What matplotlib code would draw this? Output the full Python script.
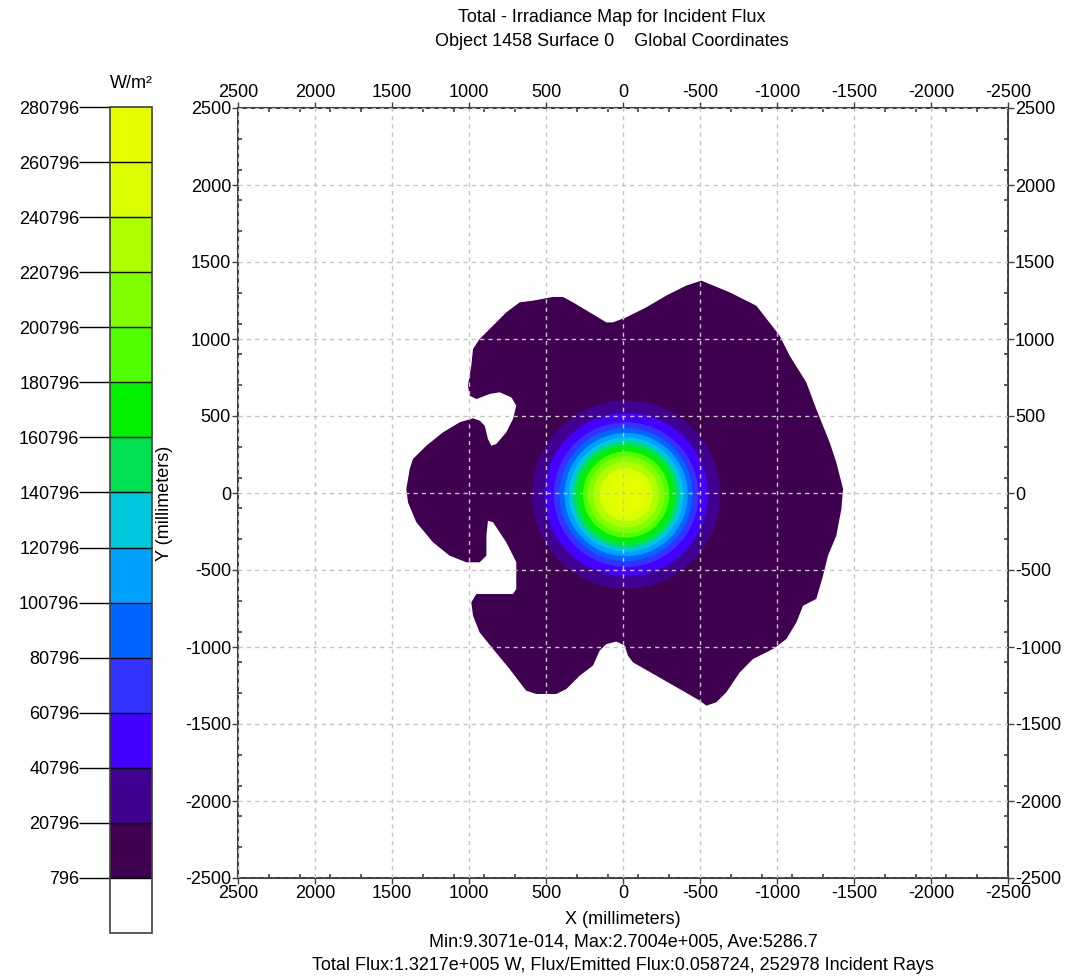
import numpy as np
import matplotlib
matplotlib.use("Agg")
import matplotlib.pyplot as plt
from matplotlib.colors import ListedColormap, BoundaryNorm
from matplotlib.patches import Polygon, Circle
from matplotlib.cm import ScalarMappable
from matplotlib.ticker import FixedLocator

plt.rcParams['font.family'] = ['Liberation Sans', 'DejaVu Sans']
plt.rcParams['axes.unicode_minus'] = False

# Irradiance contour levels (W/m^2) and the colour of each band above a level
level_values = [796, 20796, 40796, 60796, 80796, 100796, 120796, 140796,
                160796, 180796, 200796, 220796, 240796, 260796, 280796]
band_colors = ['#400050', '#400090', '#4400ff', '#3333ff', '#0066ff',
               '#00a0ff', '#00c8dc', '#00e050', '#00f000', '#50ff00',
               '#80ff00', '#b0ff00', '#dcff00', '#e6ff00']
below_color = 'white'

# Outline of the illuminated region (mm)
blob_x = [-509, -693, -866, -1017, -1082, -1190, -1255, -1342, -1385, -1429,
          -1418, -1385, -1331, -1299, -1255, -1169, -1126, -1061, -974, -844,
          -758, -671, -606, -541, -498, -368, -216, -65, -32, -11, 43, 108,
          152, 195, 281, 368, 433, 563, 628, 671, 736, 844, 931, 974, 985,
          952, 714, 693, 693, 714, 758, 844, 877, 887, 887, 931, 1017, 1126,
          1234, 1342, 1396, 1407, 1385, 1364, 1277, 1169, 1061, 974, 931, 898,
          877, 855, 823, 758, 714, 693, 725, 801, 866, 952, 996, 1007, 985,
          974, 931, 844, 758, 671, 584, 455, 390, 325, 216, 108, 65, -22,
          -152, -281, -411]
blob_y = [1379, 1303, 1216, 1022, 892, 719, 545, 329, 199, 26,
          -104, -277, -407, -537, -688, -732, -840, -948, -1013, -1078,
          -1165, -1294, -1359, -1381, -1348, -1273, -1186, -1100, -1056, -991,
          -965, -981, -1024, -1121, -1186, -1273, -1305, -1305, -1284, -1229,
          -1143, -1013, -905, -797, -710, -656, -656, -623, -450, -407, -320,
          -190, -180, -277, -407, -450, -450, -407, -320, -190, -61, 26, 156,
          221, 307, 394, 459, 485, 470, 437, 351, 307, 318, 394, 481, 567,
          621, 654, 643, 610, 632, 697, 827, 935, 1000, 1087, 1173, 1238,
          1249, 1273, 1273, 1238, 1173, 1108, 1108, 1141, 1206, 1282, 1347]

# Central spot: centre (mm) and outer radius (mm) of each band from 20796 upwards
spot_center = (-20, -10)
ring_radius = [610, 530, 470, 432, 400, 370, 342, 312, 280, 250, 215, 172, 120]

x_ticks = [2500, 2000, 1500, 1000, 500, 0, -500, -1000, -1500, -2000, -2500]
y_ticks = [-2500, -2000, -1500, -1000, -500, 0, 500, 1000, 1500, 2000, 2500]

title_lines = ["Total - Irradiance Map for Incident Flux",
               "Object 1458 Surface 0    Global Coordinates"]
stats_lines = ["Min:9.3071e-014, Max:2.7004e+005, Ave:5286.7",
               "Total Flux:1.3217e+005 W, Flux/Emitted Flux:0.058724, 252978 Incident Rays"]

W, H = 1072, 976
fig = plt.figure(figsize=(W / 100, H / 100), dpi=100)
fs = 13
frame_col = '#404040'

# ---- main map ----
ax = fig.add_axes([238 / W, 98 / H, 770 / W, 770 / H])
ax.set_xlim(2500, -2500)
ax.set_ylim(-2500, 2500)

ax.add_patch(Polygon(np.column_stack([blob_x, blob_y]), closed=True,
                     facecolor=band_colors[0], edgecolor='none', zorder=1))
for k, r in enumerate(ring_radius):
    ax.add_patch(Circle(spot_center, r, facecolor=band_colors[k + 1],
                        edgecolor='none', zorder=2))

ax.xaxis.set_major_locator(FixedLocator(x_ticks))
ax.yaxis.set_major_locator(FixedLocator(y_ticks))
ax.xaxis.set_minor_locator(FixedLocator(np.arange(-2500, 2501, 200)))
ax.yaxis.set_minor_locator(FixedLocator(np.arange(-2500, 2501, 200)))
ax.tick_params(which='major', direction='out', length=4, width=1,
               color=frame_col, top=True, right=True, labeltop=True,
               labelright=True, labelsize=fs, pad=1)
ax.tick_params(which='minor', direction='in', length=3, width=1.2,
               color=frame_col, top=True, right=True)
ax.grid(True, which='major', color='#c4c4c4', linestyle=(0, (3, 3)), lw=1,
        zorder=3)
ax.set_axisbelow(False)
for s in ax.spines.values():
    s.set_color(frame_col)
    s.set_linewidth(1.5)

fig.text(165 / W, 1 - 503 / H, "Y (millimeters)", rotation=90, ha='center',
         va='center', fontsize=fs)
fig.text(623 / W, 1 - 920 / H, "X (millimeters)", ha='center', va='center',
         fontsize=fs)
for i, t in enumerate(stats_lines):
    fig.text(623 / W, 1 - (942 + 24 * i) / H, t, ha='center', va='center',
             fontsize=fs)
for i, t in enumerate(title_lines):
    fig.text(612 / W, 1 - (18 + 23 * i) / H, t, ha='center', va='center',
             fontsize=fs)

# ---- colour legend ----
cax = fig.add_axes([110 / W, (H - 933) / H, 42 / W, 826 / H])
boundaries = [level_values[0] - 20000] + level_values
cmap = ListedColormap([below_color] + band_colors)
norm = BoundaryNorm(boundaries, cmap.N)
cb = fig.colorbar(ScalarMappable(norm=norm, cmap=cmap), cax=cax,
                  ticks=level_values, drawedges=True, spacing='proportional')
cax.yaxis.set_ticks_position('left')
cax.yaxis.set_label_position('left')
cax.minorticks_off()
cax.tick_params(which='major', length=22, width=1, color='black',
                labelsize=fs, pad=0)
cb.outline.set_edgecolor(frame_col)
cb.outline.set_linewidth(1.2)
cb.dividers.set_color('black')
cb.dividers.set_linewidth(1)
fig.text(131 / W, 1 - 84 / H, "W/m²", ha='center', va='center', fontsize=fs)

fig.savefig("out.png", dpi=100, facecolor='white')
